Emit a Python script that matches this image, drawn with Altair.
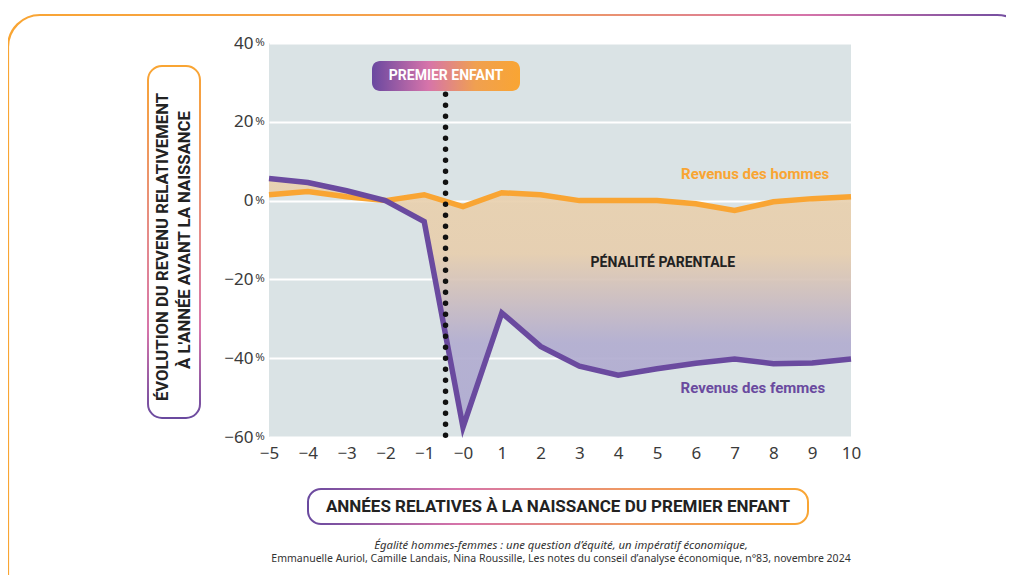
import altair as alt
import pandas as pd

years = [-5, -4, -3, -2, -1, 0, 1, 2, 3, 4, 5, 6, 7, 8, 9, 10]
men = [1.5, 2.3, 1.0, 0.0, 1.5, -1.5, 2.0, 1.5, 0.0, 0.0, 0.0, -0.8, -2.5, -0.3, 0.5, 1.0]
women = [5.6, 4.6, 2.5, 0.0, -5.3, -57.5, -28.5, -37.0, -42.0, -44.3, -42.7, -41.3, -40.2, -41.4, -41.2, -40.2]
y_ticks = [-60, -40, -20, 0, 20, 40]
x_ticks = years
event_x = [-0.45]
event_y = [27, -60]

ORANGE = "#f9a533"
PURPLE = "#6a4a9f"
PINK = "#d674aa"
FONT = "Noto Sans"
BOLD = "Roboto"

df = pd.DataFrame({"x": years, "men": men, "women": women})

W, H = 582, 394
xs = alt.Scale(domain=[-5, 10], nice=False)
ys = alt.Scale(domain=[-60, 40], nice=False)

xaxis = alt.Axis(values=x_ticks, grid=False, domain=False, ticks=False,
                 labelExpr="datum.value === 0 ? '\u22120' : datum.label",
                 labelFontSize=17, labelColor="#3a3a3a", labelFont=FONT,
                 labelPadding=8, title=None, labelFlush=False, labelOverlap=False)
yaxis = alt.Axis(values=y_ticks, grid=True, gridColor="white", gridWidth=2,
                 domain=False, ticks=False, labelFontSize=17,
                 labelColor="#3a3a3a", labelFont=FONT, labelPadding=16,
                 title=None, labelOverlap=False)

def X(field):
    return alt.X(field, scale=xs, axis=xaxis)

def Y(field):
    return alt.Y(field, scale=ys, axis=yaxis)

one = alt.Data(values=[{}])

def grad(stops, vertical=False):
    g = {"gradient": "linear", "stops": [{"offset": o, "color": c} for o, c in stops],
         "x1": 0, "y1": 0, "x2": 0 if vertical else 1, "y2": 1 if vertical else 0}
    return g

area_fill = grad([(0, "#e9d1ae"), (0.3, "#e7ceae"), (0.66, "#b2add0"), (1, "#aeaad0")], vertical=True)

base = alt.Chart(df)

area = base.mark_area(fill=area_fill, opacity=0.92).encode(
    x=X("x:Q"), y=Y("men:Q"), y2="women:Q")

line_m = base.mark_line(color=ORANGE, strokeWidth=5.5, strokeJoin="miter").encode(x=X("x:Q"), y=Y("men:Q"))
line_w = base.mark_line(color=PURPLE, strokeWidth=5.5, strokeJoin="miter").encode(x=X("x:Q"), y=Y("women:Q"))

rule = alt.Chart(alt.Data(values=[{"x": event_x[0], "y": event_y[0], "y2": event_y[1]}])).mark_rule(
    color="#111", strokeWidth=5.5, strokeDash=[0.1, 10.9], strokeCap="round").encode(
    x=X("x:Q"), y=Y("y:Q"), y2="y2:Q")

pct = alt.Chart(alt.Data(values=[{"v": v} for v in y_ticks])).mark_text(
    text="%", fontSize=11.5, font=FONT, color="#3a3a3a", align="center", baseline="middle").encode(
    x=alt.value(-9), y=Y("v:Q"))

# label box "PREMIER ENFANT"
box_fill = grad([(0, "#6a48a0"), (0.38, PINK), (0.7, "#f0a050"), (1, ORANGE)])
pe_box = alt.Chart(one).mark_rect(fill=box_fill, cornerRadius=8).encode(
    x=alt.value(103), x2=alt.value(251), y=alt.value(18), y2=alt.value(48))
pe_txt = alt.Chart(one).mark_text(text="PREMIER ENFANT", font=BOLD, fontWeight="bold", fontSize=14,
                                   color="white", align="center", baseline="middle").encode(
    x=alt.value(177), y=alt.value(33))

labels = alt.Chart(alt.Data(values=[
    {"x": 7.53, "y": 6.75, "t": "Revenus des hommes", "c": ORANGE},
    {"x": 7.47, "y": -47.6, "t": "Revenus des femmes", "c": PURPLE},
])).mark_text(font=BOLD, fontWeight="bold", fontSize=15, align="center", baseline="middle").encode(
    x=X("x:Q"), y=Y("y:Q"), text="t:N", color=alt.Color("c:N", scale=None))

pen = alt.Chart(alt.Data(values=[{"x": 5.15, "y": -15.8, "t": "PÉNALITÉ PARENTALE"}])).mark_text(
    font=BOLD, fontWeight="bold", fontSize=14, color="#222", align="center", baseline="middle").encode(
    x=X("x:Q"), y=Y("y:Q"), text="t:N")

# outer frame
frame_grad = grad([(0, ORANGE), (0.5, "#f3a056"), (0.78, PINK), (1, PURPLE)])
frame = alt.Chart(one).mark_rect(fill="transparent", stroke=frame_grad, strokeWidth=2.2, cornerRadius=32).encode(
    x=alt.value(-261), x2=alt.value(760), y=alt.value(-28), y2=alt.value(570))

# y title box
ybox_grad = grad([(0, ORANGE), (0.5, "#e58a8c"), (0.75, PINK), (1, PURPLE)], vertical=True)
ybox = alt.Chart(one).mark_rect(fill="white", stroke=ybox_grad, strokeWidth=2, cornerRadius=14).encode(
    x=alt.value(-121), x2=alt.value(-69), y=alt.value(23), y2=alt.value(375))
yt1 = alt.Chart(one).mark_text(text="ÉVOLUTION DU REVENU RELATIVEMENT", font=BOLD, fontWeight="bold",
                                fontSize=16.7, color="#222", angle=270, align="center", baseline="middle").encode(
    x=alt.value(-106), y=alt.value(204))
yt2 = alt.Chart(one).mark_text(text="À L'ANNÉE AVANT LA NAISSANCE", font=BOLD, fontWeight="bold",
                                fontSize=16.7, color="#222", angle=270, align="center", baseline="middle").encode(
    x=alt.value(-84), y=alt.value(197))

# x title box
xbox_grad = grad([(0, PURPLE), (0.3, PINK), (0.65, "#f09a60"), (1, ORANGE)])
xbox = alt.Chart(one).mark_rect(fill="white", stroke=xbox_grad, strokeWidth=2, cornerRadius=13).encode(
    x=alt.value(39), x2=alt.value(539), y=alt.value(446), y2=alt.value(481))
xt = alt.Chart(one).mark_text(text="ANNÉES RELATIVES À LA NAISSANCE DU PREMIER ENFANT", font=BOLD,
                               fontWeight="bold", fontSize=17, color="#222", align="center",
                               baseline="middle").encode(x=alt.value(289), y=alt.value(464))

src1 = alt.Chart(one).mark_text(text="Égalité hommes-femmes : une question d’équité, un impératif économique,",
                                 font=FONT, fontStyle="italic", fontSize=11.3, color="#333", align="center",
                                 baseline="middle").encode(x=alt.value(292), y=alt.value(503))
src2 = alt.Chart(one).mark_text(text="Emmanuelle Auriol, Camille Landais, Nina Roussille, Les notes du conseil d’analyse économique, n°83, novembre 2024",
                                 font=FONT, fontSize=10.5, color="#333", align="center",
                                 baseline="middle").encode(x=alt.value(292), y=alt.value(516))

chart = alt.layer(
    frame, area, line_m, line_w, rule, pe_box, pe_txt, labels, pen, pct,
    ybox, yt1, yt2, xbox, xt, src1, src2
).properties(
    width=W, height=H,
    autosize=alt.AutoSizeParams(type="none"),
    padding={"left": 261, "top": 35, "right": 155, "bottom": 138},
    background="white",
).configure_view(fill="#dae3e5", stroke=None)

chart.save("out.html", embed_options={"renderer": "svg", "actions": False})
